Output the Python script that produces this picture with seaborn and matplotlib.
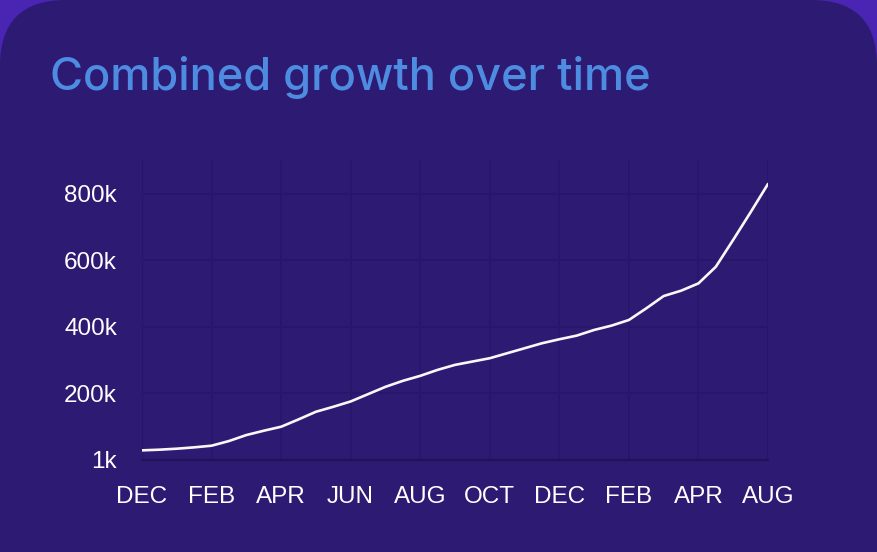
import seaborn as sns
import matplotlib.pyplot as plt
from matplotlib.patches import FancyBboxPatch
import pandas as pd

# values every half month (DEC .. AUG)
month_pos = [i / 2 for i in range(37)]
growth = [29000, 31000, 34000, 38000, 43000, 57000, 75000, 88000, 100000,
          122000, 145000, 160000, 176000, 198000, 220000, 238000, 253000,
          271000, 286000, 296000, 306000, 321000, 336000, 351000, 363000,
          374000, 391000, 404000, 421000, 456000, 493000, 509000, 531000,
          581000, 662000, 745000, 830000]
tick_pos = [0, 2, 4, 6, 8, 10, 12, 14, 16, 18]
tick_labels = ['DEC', 'FEB', 'APR', 'JUN', 'AUG', 'OCT', 'DEC', 'FEB', 'APR', 'AUG']
y_ticks = [1000, 200000, 400000, 600000, 800000]
y_labels = ['1k', '200k', '400k', '600k', '800k']

df = pd.DataFrame({'month': month_pos, 'value': growth})

card = '#2d1a72'
outer = '#4a24b3'
grid = '#27166a'

sns.set_style('dark')
plt.rcParams['font.family'] = ['Liberation Sans', 'DejaVu Sans']

fig = plt.figure(figsize=(8.77, 5.52), dpi=100)
fig.patch.set_facecolor(outer)
card_patch = FancyBboxPatch((0, -0.3), 1, 1.3, boxstyle='round,pad=0,rounding_size=0.075',
                            transform=fig.transFigure, facecolor=card, edgecolor='none',
                            mutation_aspect=877 / 552, zorder=-5)
fig.patches.append(card_patch)

ax = fig.add_axes([142 / 877, 92 / 552, 626 / 877, 300 / 552])
ax.set_zorder(2)
ax.set_facecolor('none')
sns.lineplot(data=df, x='month', y='value', ax=ax, color='#fdf6f8', linewidth=1.9)

ax.set_xlim(0, 18)
ax.set_ylim(0, 902000)
ax.set_xticks(tick_pos)
ax.set_xticklabels(tick_labels)
ax.set_yticks(y_ticks)
ax.set_yticklabels(y_labels)
ax.set_xlabel('')
ax.set_ylabel('')
ax.grid(True, color=grid, linewidth=1.2)
ax.tick_params(axis='x', length=14, width=1.2, color=grid, colors='white', labelsize=17.5, pad=5)
ax.tick_params(axis='y', length=17, width=1.2, color=grid, colors='white', labelsize=17.5, pad=1)
for s in ['top', 'right', 'left']:
    ax.spines[s].set_visible(False)
ax.spines['bottom'].set_color('#221358')
ax.spines['bottom'].set_linewidth(1.6)

fig.text(50 / 877, 1 - 90 / 552, 'Combined growth over time', color='#4d8ce0',
         fontsize=32.5, fontweight='medium', family=['Inter', 'DejaVu Sans'],
         ha='left', va='baseline', zorder=3)

fig.savefig('out.png', dpi=100, facecolor=fig.get_facecolor())
